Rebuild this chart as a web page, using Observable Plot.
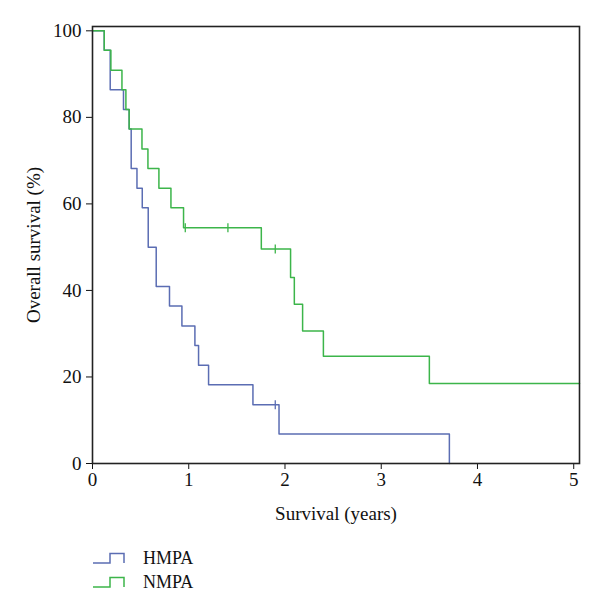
<!DOCTYPE html>
<html>
<head>
<meta charset="utf-8">
<script src="https://cdn.jsdelivr.net/npm/d3@7"></script>
<script src="https://cdn.jsdelivr.net/npm/@observablehq/plot@0.6"></script>
<style>
  html, body { margin: 0; padding: 0; background: #fff; }
  body { width: 600px; height: 614px; position: relative; font-family: "Liberation Serif", serif; }
  #legend { position: absolute; left: 92px; top: 546px; font-size: 18px; color: #111; font-family: "Liberation Serif", serif; }
  .item { display: flex; align-items: center; height: 24px; }
  .item svg { margin-right: 17px; }
</style>
</head>
<body>
<div id="chart"></div>
<div id="legend"></div>
<script>
// HMPA group: step times (years) and survival (%)
const hmpaTime = [0, 0.122, 0.184, 0.322, 0.381, 0.402, 0.462, 0.517, 0.579, 0.662, 0.800, 0.929, 1.064, 1.102, 1.206, 1.667, 1.938, 3.708];
const hmpaSurv = [100, 95.5, 86.4, 81.8, 77.3, 68.2, 63.6, 59.1, 50.0, 40.9, 36.4, 31.8, 27.3, 22.7, 18.2, 13.6, 6.8, 0];
const hmpaCensorTime = [1.899];
const hmpaCensorSurv = [13.6];

// NMPA group
const nmpaTime = [0, 0.122, 0.191, 0.306, 0.347, 0.381, 0.514, 0.576, 0.690, 0.815, 0.946, 1.754, 2.058, 2.097, 2.183, 2.399, 3.500, 5.06];
const nmpaSurv = [100, 95.5, 90.9, 86.4, 81.8, 77.3, 72.7, 68.2, 63.6, 59.1, 54.5, 49.6, 43.0, 36.8, 30.6, 24.8, 18.5, 18.5];
const nmpaCensorTime = [0.964, 1.407, 1.899];
const nmpaCensorSurv = [54.5, 54.5, 49.6];

const xTicks = [0, 1, 2, 3, 4, 5];
const yTicks = [0, 20, 40, 60, 80, 100];
const xLabel = "Survival (years)";
const yLabel = "Overall survival (%)";

const groups = ["HMPA", "NMPA"];
const colors = ["#5b6db3", "#3cb54a"];

const steps = [
  ...hmpaTime.map((t, i) => ({group: "HMPA", t, s: hmpaSurv[i]})),
  ...nmpaTime.map((t, i) => ({group: "NMPA", t, s: nmpaSurv[i]}))
];
const censors = [
  ...hmpaCensorTime.map((t, i) => ({group: "HMPA", t, s: hmpaCensorSurv[i]})),
  ...nmpaCensorTime.map((t, i) => ({group: "NMPA", t, s: nmpaCensorSurv[i]}))
];

const vtick = {
  draw(ctx, size) {
    const h = Math.sqrt(size / Math.PI);
    ctx.moveTo(0, -h);
    ctx.lineTo(0, h);
  }
};

const chart = Plot.plot({
  width: 600,
  height: 530,
  marginLeft: 92,
  marginRight: 21,
  marginTop: 26,
  marginBottom: 67,
  style: {fontFamily: "'Liberation Serif', serif", fontSize: "19px", color: "#111", background: "#fff"},
  x: {domain: [0, 5.06], ticks: xTicks, tickFormat: d3.format("d"), tickSize: 6, tickPadding: 3, label: null},
  y: {domain: [0, 101], ticks: yTicks, tickFormat: d3.format("d"), tickSize: 6, tickPadding: 5, label: null},
  color: {domain: groups, range: colors},
  marks: [
    Plot.line(steps, {x: "t", y: "s", z: "group", stroke: "group", curve: "step-after", strokeWidth: 1.5}),
    Plot.dot(censors, {x: "t", y: "s", stroke: "group", symbol: vtick, r: 4.5, strokeWidth: 1.3}),
    Plot.frame({stroke: "#222", strokeWidth: 1.6}),
    Plot.text([xLabel], {frameAnchor: "bottom", dy: 50, lineAnchor: "middle", textAnchor: "middle", fill: "#111"}),
    Plot.text([yLabel], {frameAnchor: "left", dx: -59, rotate: -90, lineAnchor: "middle", textAnchor: "middle", fill: "#111"})
  ]
});
document.getElementById("chart").appendChild(chart);

const legend = document.getElementById("legend");
groups.forEach((g, i) => {
  const div = document.createElement("div");
  div.className = "item";
  div.innerHTML = `<svg width="34" height="12"><path d="M1,11 H18 V1.5 H32 V11" fill="none" stroke="${colors[i]}" stroke-width="1.5"/></svg><span>${g}</span>`;
  legend.appendChild(div);
});
</script>
</body>
</html>
